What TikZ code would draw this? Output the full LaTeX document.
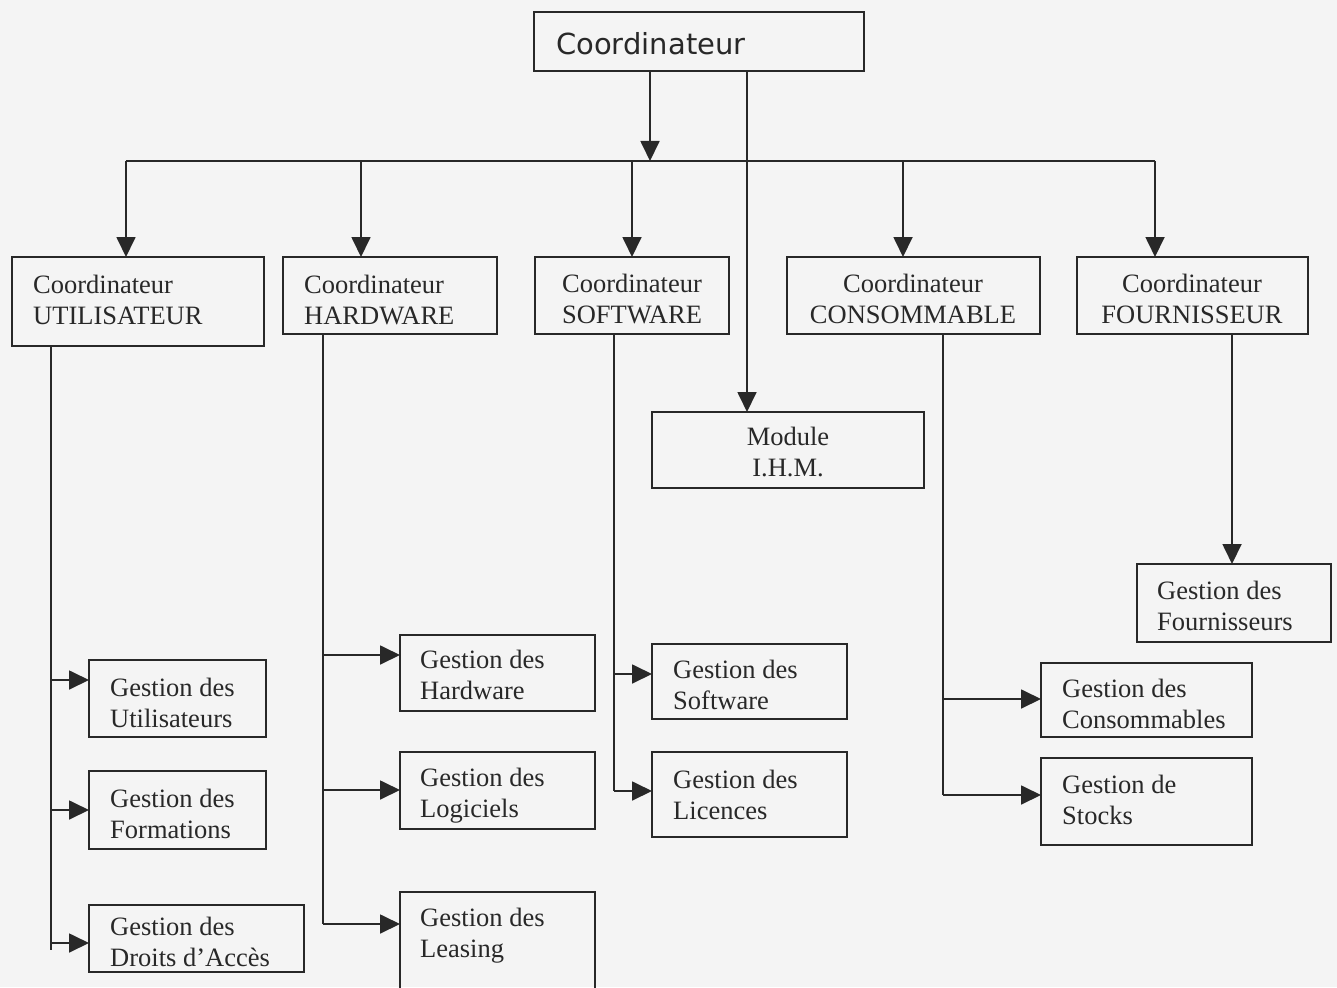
\documentclass[tikz,border=0pt]{standalone}
\usepackage{fontspec}
\setmainfont{Liberation Serif}
\newfontfamily\headfont{DejaVu Sans}
\usetikzlibrary{arrows.meta}
\definecolor{ink}{RGB}{40,40,40}
\definecolor{paper}{RGB}{244,244,244}
\tikzset{
  box/.style={draw=ink, line width=1.8pt, inner sep=0pt, outer sep=0pt, anchor=north west},
  lbl/.style={text=ink, inner sep=0pt, align=left, font=\fontsize{26.5}{30.5}\selectfont},
  clbl/.style={lbl, align=center},
  wire/.style={draw=ink, line width=1.8pt},
  arr/.style={wire, -{Triangle[length=20pt,width=19pt]}},
}
\begin{document}
\begin{tikzpicture}[x=1pt,y=-1pt]
\fill[paper] (0,0) rectangle (1337,987);
\useasboundingbox (0,0) rectangle (1337,987);

% --- boxes (top-left corner, width, height) ---
\node[box, minimum width=330pt, minimum height=59pt] (top) at (534,12) {};
\node[box, minimum width=252pt, minimum height=89pt] (cu)  at (12,257) {};
\node[box, minimum width=214pt, minimum height=77pt] (ch)  at (283,257) {};
\node[box, minimum width=194pt, minimum height=77pt] (cs)  at (535,257) {};
\node[box, minimum width=253pt, minimum height=77pt] (cc)  at (787,257) {};
\node[box, minimum width=231pt, minimum height=77pt] (cf)  at (1077,257) {};
\node[box, minimum width=272pt, minimum height=76pt] (mod) at (652,412) {};

\node[box, minimum width=177pt, minimum height=77pt] (gu)  at (89,660) {};
\node[box, minimum width=177pt, minimum height=78pt] (gfo) at (89,771) {};
\node[box, minimum width=215pt, minimum height=67pt] (gd)  at (89,905) {};
\node[box, minimum width=195pt, minimum height=76pt] (gh)  at (400,635) {};
\node[box, minimum width=195pt, minimum height=77pt] (gl)  at (400,752) {};
\node[box, minimum width=195pt, minimum height=110pt] (gle) at (400,892) {};
\node[box, minimum width=195pt, minimum height=75pt] (gs)  at (652,644) {};
\node[box, minimum width=195pt, minimum height=85pt] (gli) at (652,752) {};
\node[box, minimum width=194pt, minimum height=78pt] (gfr) at (1137,564) {};
\node[box, minimum width=211pt, minimum height=74pt] (gc)  at (1041,663) {};
\node[box, minimum width=211pt, minimum height=87pt] (gst) at (1041,758) {};

% --- labels (anchored on the baseline of their last line) ---
\node[anchor=base west, text=ink, inner sep=0pt, font=\headfont\fontsize{29}{34}\selectfont] (top-t) at (556,55) {Coordinateur};
\node[lbl, anchor=base west] (cu-t) at (33,324) {Coordinateur\\UTILISATEUR};
\node[lbl, anchor=base west] (ch-t) at (304,324) {Coordinateur\\HARDWARE};
\node[clbl, anchor=base] (cs-t) at (632,323) {Coordinateur\\SOFTWARE};
\node[clbl, anchor=base] (cc-t) at (913,323) {Coordinateur\\CONSOMMABLE};
\node[clbl, anchor=base] (cf-t) at (1192,323) {Coordinateur\\FOURNISSEUR};
\node[clbl, anchor=base] (mod-t) at (788,476) {Module\\I.H.M.};

\node[lbl, anchor=base west] (gu-t)  at (110,727) {Gestion des\\Utilisateurs};
\node[lbl, anchor=base west] (gfo-t) at (110,838) {Gestion des\\Formations};
\node[lbl, anchor=base west] (gd-t)  at (110,966) {Gestion des\\Droits d’Accès};
\node[lbl, anchor=base west] (gh-t)  at (420,699) {Gestion des\\Hardware};
\node[lbl, anchor=base west] (gl-t)  at (420,817) {Gestion des\\Logiciels};
\node[lbl, anchor=base west] (gle-t) at (420,957) {Gestion des\\Leasing};
\node[lbl, anchor=base west] (gs-t)  at (673,709) {Gestion des\\Software};
\node[lbl, anchor=base west] (gli-t) at (673,819) {Gestion des\\Licences};
\node[lbl, anchor=base west] (gfr-t) at (1157,630) {Gestion des\\Fournisseurs};
\node[lbl, anchor=base west] (gc-t)  at (1062,728) {Gestion des\\Consommables};
\node[lbl, anchor=base west] (gst-t) at (1062,824) {Gestion de\\Stocks};

% --- distribution bus under the head box ---
\coordinate (busT) at (650,161);
\coordinate (b1) at (126,161);
\coordinate (b2) at (361,161);
\coordinate (b3) at (632,161);
\coordinate (b4) at (903,161);
\coordinate (b5) at (1155,161);
\draw[wire] (b1) -- (b5);
\draw[arr] (top.south -| busT) -- (busT);
\draw[arr] (b1) -- (cu.north -| b1);
\draw[arr] (b2) -- (ch.north -| b2);
\draw[arr] (b3) -- (cs.north -| b3);
\draw[arr] (b4) -- (cc.north -| b4);
\draw[arr] (b5) -- (cf.north -| b5);

% --- direct link to the interface module ---
\coordinate (m0) at (747,0);
\draw[arr] (top.south -| m0) -- (mod.north -| m0);

% --- UTILISATEUR branch ---
\coordinate (u0) at (51,950);
\coordinate (u1) at (51,680);
\coordinate (u2) at (51,810);
\coordinate (u3) at (51,943);
\draw[wire] (cu.south -| u0) -- (u0);
\draw[arr] (u1) -- (gu.west |- u1);
\draw[arr] (u2) -- (gfo.west |- u2);
\draw[arr] (u3) -- (gd.west |- u3);

% --- HARDWARE branch ---
\coordinate (h1) at (323,655);
\coordinate (h2) at (323,790);
\coordinate (h3) at (323,924);
\draw[wire] (ch.south -| h3) -- (h3);
\draw[arr] (h1) -- (gh.west |- h1);
\draw[arr] (h2) -- (gl.west |- h2);
\draw[arr] (h3) -- (gle.west |- h3);

% --- SOFTWARE branch ---
\coordinate (s1) at (614,674);
\coordinate (s2) at (614,791);
\draw[wire] (cs.south -| s2) -- (s2);
\draw[arr] (s1) -- (gs.west |- s1);
\draw[arr] (s2) -- (gli.west |- s2);

% --- CONSOMMABLE branch ---
\coordinate (k1) at (943,699);
\coordinate (k2) at (943,795);
\draw[wire] (cc.south -| k2) -- (k2);
\draw[arr] (k1) -- (gc.west |- k1);
\draw[arr] (k2) -- (gst.west |- k2);

% --- FOURNISSEUR branch ---
\coordinate (f0) at (1232,0);
\draw[arr] (cf.south -| f0) -- (gfr.north -| f0);
\end{tikzpicture}
\end{document}
